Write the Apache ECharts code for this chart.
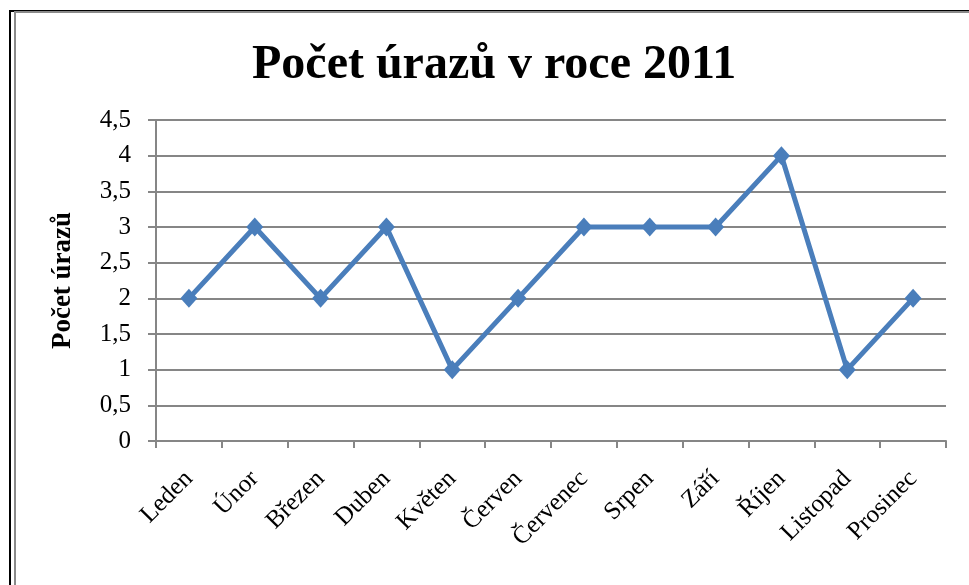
<!DOCTYPE html>
<html>
<head>
<meta charset="utf-8">
<script src="https://cdn.jsdelivr.net/npm/echarts@6/dist/echarts.min.js"></script>
<style>
  html, body { margin: 0; padding: 0; background: #fff; }
  #frame-black { position: absolute; left: 9px; top: 10px; width: 980px; height: 600px;
                 border-left: 2px solid #000; border-top: 2px solid #000; }
  #frame-gray  { position: absolute; left: 14px; top: 11px; width: 980px; height: 600px;
                 border-left: 2px solid #8a8a8a; border-top: 2px solid #8a8a8a; }
  #chart { position: absolute; left: 0; top: 0; width: 969px; height: 585px; }
</style>
</head>
<body>
<div id="frame-black"></div>
<div id="frame-gray"></div>
<div id="chart"></div>
<script>
const months = ['Leden', 'Únor', 'Březen', 'Duben', 'Květen', 'Červen',
                'Červenec', 'Srpen', 'Září', 'Říjen', 'Listopad', 'Prosinec'];
const injuries = [2, 3, 2, 3, 1, 2, 3, 3, 3, 4, 1, 2];

const LINE_BLUE = '#4A7EBB';
const AXIS_GRAY = '#868686';
const SERIF = '"Liberation Serif", "Times New Roman", serif';

const chart = echarts.init(document.getElementById('chart'));

chart.setOption({
    backgroundColor: 'transparent',
    animation: false,
    textStyle: { fontFamily: SERIF, color: '#000' },
    title: {
        text: 'Počet úrazů v roce 2011',
        left: 247,
        top: 37,
        textStyle: { fontFamily: SERIF, fontSize: 48, fontWeight: 'bold', color: '#000' }
    },
    grid: { left: 156, right: 23, top: 120, bottom: 144 },
    xAxis: {
        type: 'category',
        data: months,
        boundaryGap: true,
        axisLine: { lineStyle: { color: AXIS_GRAY, width: 2 } },
        axisTick: { show: true, length: 7, lineStyle: { color: AXIS_GRAY, width: 2 } },
        axisLabel: { rotate: 45, fontSize: 25, color: '#000', margin: 34, fontFamily: SERIF }
    },
    yAxis: {
        type: 'value',
        min: 0,
        max: 4.5,
        interval: 0.5,
        name: 'Počet úrazů',
        nameLocation: 'middle',
        nameGap: 79,
        nameTextStyle: { fontFamily: SERIF, fontSize: 27, fontWeight: 'bold', color: '#000' },
        axisLine: { show: true, lineStyle: { color: AXIS_GRAY, width: 2 } },
        axisTick: { show: true, length: 8, lineStyle: { color: AXIS_GRAY, width: 2 } },
        axisLabel: {
            fontSize: 25, color: '#000', margin: 25, fontFamily: SERIF,
            formatter: v => String(v).replace('.', ',')
        },
        splitLine: { lineStyle: { color: AXIS_GRAY, width: 2 } }
    },
    series: [{
        name: 'Počet úrazů',
        type: 'line',
        data: injuries,
        symbol: 'diamond',
        symbolSize: [17, 19],
        lineStyle: { color: LINE_BLUE, width: 5 },
        itemStyle: { color: LINE_BLUE }
    }]
});
</script>
</body>
</html>
